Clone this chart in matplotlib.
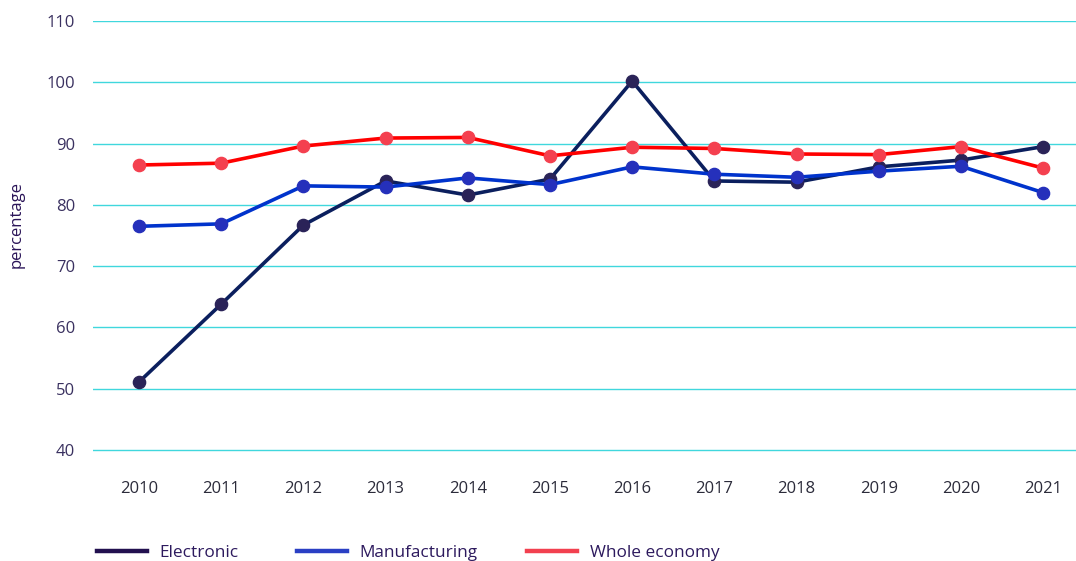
import matplotlib
matplotlib.use("Agg")
import matplotlib.pyplot as plt

years = [2010, 2011, 2012, 2013, 2014, 2015, 2016, 2017, 2018, 2019, 2020, 2021]
electronic = [51.1, 63.8, 76.7, 83.9, 81.6, 84.2, 100.2, 83.9, 83.7, 86.2, 87.3, 89.5]
manufacturing = [76.5, 76.9, 83.1, 82.9, 84.4, 83.3, 86.2, 85.0, 84.5, 85.5, 86.3, 82.0]
whole_economy = [86.5, 86.8, 89.6, 90.9, 91.0, 88.0, 89.4, 89.2, 88.3, 88.2, 89.5, 86.0]
yticks = [40, 50, 60, 70, 80, 90, 100, 110]

plt.rcParams['font.family'] = ['Open Sans', 'DejaVu Sans']

fig = plt.figure(figsize=(10.76, 5.61), dpi=100)
ax = fig.add_axes([93/1076, 1 - 452/561, 1 - 93/1076, (452 - 21)/561])

series = [
    ("Electronic", electronic, "#0b1f5e", "#2a2358"),
    ("Manufacturing", manufacturing, "#0033cc", "#2530bb"),
    ("Whole economy", whole_economy, "#ff0000", "#f4404f"),
]
legend_colors = ["#22104f", "#2a3fc4", "#f2404f"]
handles = []
for (name, vals, lc, mc), legc in zip(series, legend_colors):
    ax.plot(years, vals, color=lc, lw=2.6, marker='o', markersize=8.8,
            markerfacecolor=mc, markeredgecolor=mc, clip_on=False, zorder=3)
    h, = ax.plot([], [], color=legc, lw=3.2, label=name)
    handles.append(h)

ax.set_xlim(2009.44, 2021.4)
ax.set_ylim(110 - 70 * (452 - 21) / 429, 110)
ax.set_yticks(yticks)
ax.set_xticks(years)
ax.grid(axis='y', color='#1ed0d8', lw=1.0, alpha=0.85)
ax.set_axisbelow(True)
for s in ax.spines.values():
    s.set_visible(False)
ax.tick_params(axis='both', length=0, labelsize=12)
ax.tick_params(axis='y', colors='#3a3160', pad=13)
ax.tick_params(axis='x', colors='#2b2b3a', pad=21)
ax.set_ylabel("percentage", fontsize=12, color='#2a1458')
ax.yaxis.set_label_coords(-93/1076 + 17/983, 0.5 + 12/431)

legend_x = [97, 297, 527]
for h, lx in zip(handles, legend_x):
    leg = fig.legend(handles=[h], loc='center left', bbox_to_anchor=(lx/1076, 1 - 553/561),
                     frameon=False, fontsize=12.4, handlelength=2.9,
                     handletextpad=0.75, labelcolor='#2d1a5e',
                     borderpad=0, borderaxespad=0)

fig.savefig("out.png", dpi=100)
